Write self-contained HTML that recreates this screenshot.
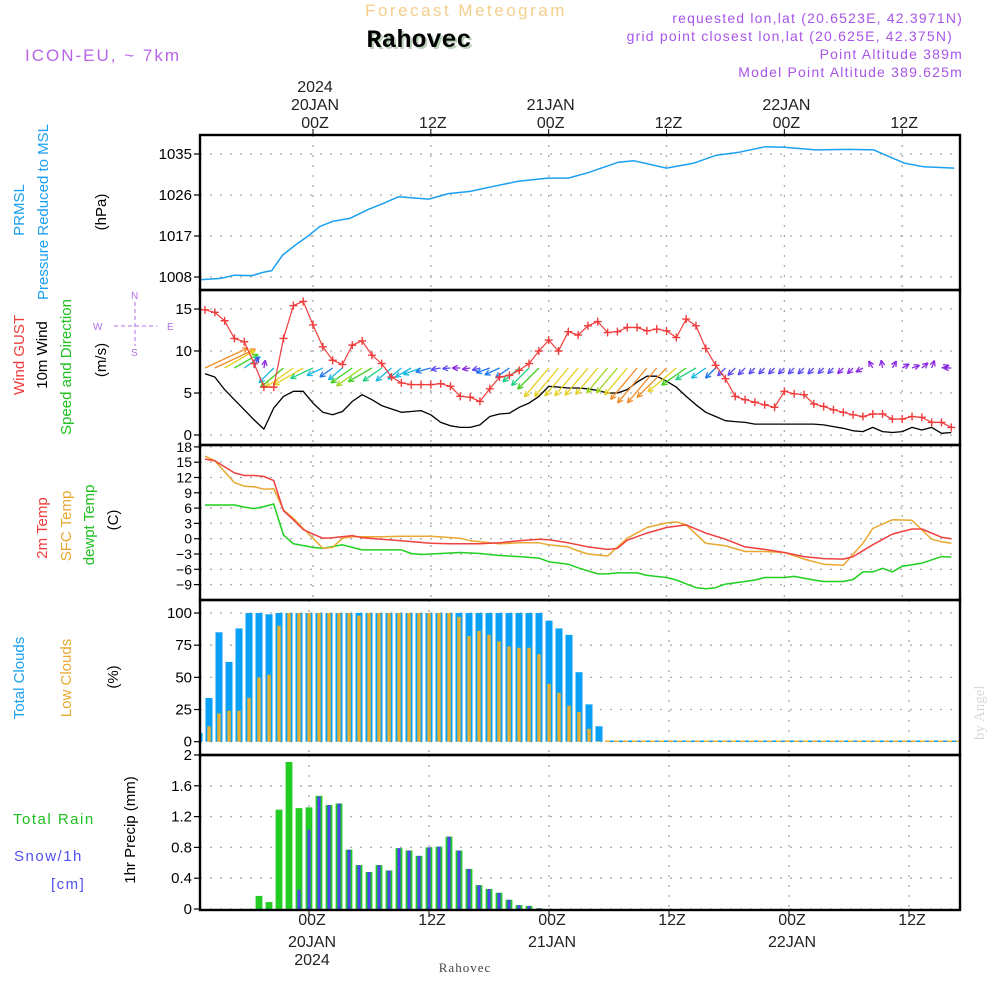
<!DOCTYPE html>
<html><head><meta charset="utf-8"><style>
html,body{margin:0;padding:0;background:#fff;}
svg{display:block;font-family:"Liberation Sans",sans-serif;}
</style></head><body>
<svg id="chart" width="1000" height="1000" viewBox="0 0 1000 1000" xmlns="http://www.w3.org/2000/svg">
<g id="titles">
<text x="466" y="16" text-anchor="middle" font-size="17" fill="#f3cf8c" letter-spacing="2.5">Forecast Meteogram</text>
<text x="421" y="49" text-anchor="middle" font-size="25" font-weight="bold" font-family="Liberation Mono, monospace" fill="#b8d0b8">Rahovec</text>
<text x="419" y="47" text-anchor="middle" font-size="25" font-weight="bold" font-family="Liberation Mono, monospace" fill="#000">Rahovec</text>
<text x="25" y="61" font-size="17" fill="#b865e8" letter-spacing="2">ICON-EU, ~ 7km</text>
<g font-size="14" fill="#a855e8" text-anchor="end" letter-spacing="1.2">
<text x="963" y="23">requested lon,lat (20.6523E, 42.3971N)</text>
<text x="953" y="41">grid point closest lon,lat (20.625E, 42.375N)</text>
<text x="963" y="59">Point Altitude 389m</text>
<text x="963" y="77">Model Point Altitude 389.625m</text>
</g>
<text transform="translate(984,740) rotate(-90)" font-size="15" font-family="Liberation Serif, serif" fill="#d8d8d8">by Angel</text>
<text x="465" y="972" text-anchor="middle" font-size="13" font-family="Liberation Serif, serif" fill="#444" letter-spacing="1">Rahovec</text>
</g>
<g id="axtitles" font-size="15">
<text transform="translate(24,210) rotate(-90)" text-anchor="middle" fill="#1aa0f0">PRMSL</text>
<text transform="translate(48,212) rotate(-90)" text-anchor="middle" fill="#1aa0f0">Pressure Reduced to MSL</text>
<text transform="translate(106,212) rotate(-90)" text-anchor="middle" fill="#000">(hPa)</text>
<text transform="translate(24,355) rotate(-90)" text-anchor="middle" fill="#f03c3c">Wind GUST</text>
<text transform="translate(47,355) rotate(-90)" text-anchor="middle" fill="#000">10m Wind</text>
<text transform="translate(71,367) rotate(-90)" text-anchor="middle" fill="#20c020">Speed and Direction</text>
<text transform="translate(106,360) rotate(-90)" text-anchor="middle" fill="#000">(m/s)</text>
<text transform="translate(47,528) rotate(-90)" text-anchor="middle" fill="#f03c3c">2m Temp</text>
<text transform="translate(71,526) rotate(-90)" text-anchor="middle" fill="#e8a830">SFC Temp</text>
<text transform="translate(94,525) rotate(-90)" text-anchor="middle" fill="#20c020">dewpt Temp</text>
<text transform="translate(118,520) rotate(-90)" text-anchor="middle" fill="#000">(C)</text>
<text transform="translate(24,678) rotate(-90)" text-anchor="middle" fill="#1aa0f0">Total Clouds</text>
<text transform="translate(71,678) rotate(-90)" text-anchor="middle" fill="#e8a830">Low Clouds</text>
<text transform="translate(118,677) rotate(-90)" text-anchor="middle" fill="#000">(%)</text>
<text transform="translate(135,830) rotate(-90)" text-anchor="middle" fill="#000">1hr Precip (mm)</text>
<text x="13" y="824" fill="#20c020" letter-spacing="1.5">Total    Rain</text>
<text x="14" y="861" fill="#5050f0" letter-spacing="1.5">Snow/1h</text>
<text x="51" y="889" fill="#5050f0" letter-spacing="1.5">[cm]</text>
</g>
<g id="compass" fill="#b070e8" stroke="#b070e8" font-size="10">
<text x="131" y="299" stroke="none">N</text><text x="131" y="356" stroke="none">S</text>
<text x="93" y="330" stroke="none">W</text><text x="167" y="330" stroke="none">E</text>
<line x1="135" y1="302" x2="135" y2="346" stroke-dasharray="4,3"/>
<line x1="114" y1="326" x2="157" y2="326" stroke-dasharray="4,3"/>
</g>
<g id="grid"></g>
<g id="marks"></g>
<g id="frame"></g>
</svg>
<script>
// ---------- data ----------
const pressHours=[-11.5,-9.4,-8,-6.2,-5.1,-4.2,-3.1,-1.8,-0.5,0.7,2,3.8,5.6,7.1,8.7,11.8,13.8,16,18.4,20.9,23.9,26,28,31.1,32.7,36,38.8,41,43.4,46.1,48,51.2,54.6,57.1,60.2,62.2,65.3];
const pressure=[1007.4,1007.7,1008.4,1008.3,1009,1009.4,1012.8,1015,1017,1019.1,1020.2,1020.9,1022.8,1024.1,1025.6,1025.1,1026.3,1026.8,1027.9,1029,1029.7,1029.7,1030.9,1033.2,1033.5,1031.9,1033,1034.7,1035.4,1036.6,1036.5,1035.9,1036,1035.9,1033,1032.2,1031.9];
const windStartHour=-11;
const gust=[14.9,14.6,13.6,11.5,11.1,8.5,5.7,5.7,11.5,15.4,15.9,13.1,10.5,8.9,8.4,10.7,11.2,9.5,8.5,6.9,6.2,6.0,6.0,6.0,6.1,5.8,4.6,4.5,4.0,5.5,6.9,7.1,7.7,8.5,10.0,11.3,10.0,12.3,11.9,13.0,13.5,12.2,12.3,12.8,12.8,12.4,12.6,12.4,11.6,13.8,13.0,10.3,8.3,6.7,4.6,4.2,3.9,3.6,3.3,5.2,4.9,4.8,3.7,3.4,3.0,2.7,2.4,2.2,2.5,2.5,1.9,1.9,2.2,2.1,1.5,1.5,0.9];
const windSpeed=[7.3,6.9,5.4,4.2,3.0,1.8,0.7,3.2,4.6,5.2,5.2,3.8,2.7,2.4,2.8,4.0,4.8,4.2,3.5,3.1,2.7,2.8,2.9,2.4,1.5,1.1,0.9,0.9,1.2,2.2,2.5,2.6,3.3,3.8,4.6,5.8,5.7,5.6,5.6,5.5,5.3,5.0,5.0,5.4,6.3,7.0,7.0,6.4,5.7,4.6,3.6,2.7,2.2,1.7,1.6,1.5,1.3,1.3,1.3,1.3,1.3,1.3,1.3,1.2,1.0,0.8,0.5,0.4,0.9,0.4,0.3,0.4,0.9,0.6,0.9,0.2,0.3];
const windDir=[245,245,240,240,235,200,190,45,50,55,60,65,65,55,50,55,55,60,55,50,50,60,70,75,80,85,90,80,75,70,65,55,50,45,45,40,40,40,40,40,40,40,40,40,40,40,40,45,50,55,60,55,45,45,45,45,45,45,45,45,45,45,45,45,45,45,45,60,150,170,210,240,250,230,200,250,90];
const t2mHours=[-11,-10,-8,-7,-6,-5,-4,-3,-2,-1,0,1,2,4,5,7,9,12,14,17,19,21,23,24,26,28,30,31,32,34,36,38,40,42,44,46,48,50,52,54,55,57,59,61,62,64,65];
const t2m=[15.6,15.3,12.9,12.4,12.4,12.2,11.4,5.5,3.7,1.8,0.9,0.1,0.2,0.6,0.2,-0.1,-0.4,-0.9,-1.0,-1.0,-0.8,-0.4,-0.1,-0.2,-0.8,-1.6,-2.1,-1.9,-0.3,1.1,2.2,2.7,1.1,-0.1,-1.6,-2.1,-2.7,-3.5,-3.9,-4.0,-3.5,-1.2,0.9,1.9,1.9,0.3,0];
const sfcHours=[-11,-10,-8,-7,-6,-5,-4,-3,-2,-1,0,1,2,3,4,7,9,12,15,16,17,19,21,23,24,26,27,28,30,32,34,36,37,38,40,42,44,46,48,50,52,54,56,57,59,61,63,64,65];
const sfcTemp=[16.2,15.3,11.0,10.3,10.2,9.7,9.8,5.6,4.0,2.0,0.1,-1.9,-1.7,0.1,0.4,0.4,0.5,0.5,0.1,-0.4,-0.6,-1.0,-0.8,-0.8,-1.2,-1.6,-2.4,-3.0,-3.4,0.1,2.2,3.1,3.3,2.7,-0.9,-1.4,-2.5,-2.5,-2.7,-4.0,-5.0,-5.2,-0.9,2.0,3.7,3.6,-0.1,-0.6,-0.9];
const dewHours=[-11,-8,-7,-6,-5,-4,-3,-2,0,1,3,5,7,9,10,11,13,15,17,19,21,23,24,26,27,29,30,31,33,34,36,37,39,40,41,42,44,45,46,48,49,51,52,54,55,56,57,58,59,60,62,64,65];
const dewpoint=[6.6,6.6,6.2,5.9,6.3,6.8,0.7,-1.0,-1.7,-1.9,-1.2,-2.2,-2.2,-2.2,-2.9,-3.1,-2.9,-2.7,-2.9,-3.3,-3.5,-3.8,-4.5,-5.0,-5.7,-6.9,-6.9,-6.7,-6.7,-7.2,-7.6,-8.1,-9.6,-9.8,-9.6,-8.9,-8.4,-8.1,-7.6,-7.6,-7.4,-8.1,-8.4,-8.4,-8.0,-6.5,-6.5,-5.8,-6.5,-5.4,-4.8,-3.5,-3.6];
const cloudStartHour=-11;
const totalClouds=[7,34,85,62,88,100,100,99,100,100,100,100,100,100,100,100,100,100,100,100,100,100,100,100,100,100,100,100,100,100,100,100,100,100,100,94,88,83,54,29,12];
const lowClouds=[4,12,22,24,24,34,50,52,90,100,100,100,100,100,100,100,98,100,100,100,100,100,100,100,100,100,97,82,86,83,78,74,73,73,68,45,38,28,23,10,0.5];
const precipStartHour=-5;
const rain=[0.17,0.09,1.29,1.91,1.31,1.32,1.47,1.35,1.37,0.77,0.57,0.48,0.57,0.50,0.79,0.76,0.69,0.80,0.81,0.94,0.76,0.52,0.31,0.26,0.21,0.12,0.05,0.04,0.01];
const snow=[0,0,0,0,0.25,1.03,1.46,1.35,1.37,0.77,0.57,0.48,0.57,0.50,0.79,0.76,0.69,0.80,0.81,0.94,0.76,0.52,0.31,0.26,0.21,0.12,0.05,0.04,0.01];
const pressTicks=[1008,1017,1026,1035];
const windTicks=[0,5,10,15];
const tempTicks=[-9,-6,-3,0,3,6,9,12,15,18];
const cloudTicks=[0,25,50,75,100];
const precipTicks=[0,0.4,0.8,1.2,1.6,2];
const timeTickHours=[0,12,24,36,48,60];
const timeTickLabels=["00Z","12Z","00Z","12Z","00Z","12Z"];
const dateLabels={0:"20JAN",24:"21JAN",48:"22JAN"};

// ---------- axes ----------
const L=200,R=960;
const xU=h=>313+h*9.82;
const xB=h=>309+h*10;
const yP=v=>277-(v-1008)*41/9;
const yW=v=>435-v*8.4;
const yT=v=>538.7-v*5.1;
const yC=v=>741.7-v*1.287;
const yR=v=>909-v*77;
const NS="http://www.w3.org/2000/svg";
function mk(parent,tag,attrs){const e=document.createElementNS(NS,tag);for(const k in attrs)e.setAttribute(k,attrs[k]);parent.appendChild(e);return e;}
const grid=document.getElementById('grid'),marks=document.getElementById('marks'),frame=document.getElementById('frame');
const clip=mk(document.getElementById('chart'),'clipPath',{id:'plotclip'});
mk(clip,'rect',{x:L,y:135,width:R-L,height:775});
marks.setAttribute('clip-path','url(#plotclip)');

const panels=[{t:135,b:290,ticks:pressTicks,f:yP,fmt:v=>v,x:xU,name:'pressure'},
{t:290,b:445,ticks:windTicks,f:yW,fmt:v=>v,x:xU,name:'wind'},
{t:445,b:600,ticks:tempTicks,f:yT,fmt:v=>v<0?'\u2212'+(-v):v,x:xU,name:'temp'},
{t:600,b:755,ticks:cloudTicks,f:yC,fmt:v=>v,x:xB,name:'cloud'},
{t:755,b:910,ticks:precipTicks,f:yR,fmt:v=>v,x:xB,name:'precip'}];
panels.forEach(p=>{
  p.ticks.forEach(v=>{
    const y=p.f(v);
    const gl=mk(grid,'line',{x1:L,x2:R,y1:y,y2:y,stroke:'#aaa','stroke-dasharray':'2,8','stroke-width':1.3});
    
    
    mk(grid,'line',{x1:L-6,x2:L,y1:y,y2:y,stroke:'#000','stroke-width':1.2});
    const t=mk(grid,'text',{x:L-8,y:y+5,'text-anchor':'end','font-size':p.name==='temp'?14:15,fill:'#000'});
    t.textContent=p.fmt(v);
    
    
  });
  timeTickHours.forEach(h=>{
    const x=p.x(h);
    const vl=mk(grid,'line',{x1:x,x2:x,y1:p.t,y2:p.b,stroke:'#aaa','stroke-dasharray':'2,8','stroke-width':1.3});
    
    
  });
  const r=mk(frame,'rect',{x:L,y:p.t,width:R-L,height:p.b-p.t,fill:'none',stroke:'#000','stroke-width':2.4});
  
  
});
timeTickHours.forEach((h,i)=>{
  const x=xU(h);
  mk(frame,'line',{x1:x,x2:x,y1:129,y2:135,stroke:'#000'});
  const t=mk(frame,'text',{x:x+2,y:128,'text-anchor':'middle','font-size':16,fill:'#222'});
  t.textContent=timeTickLabels[i];
  
  
  if(dateLabels[h]){const d=mk(frame,'text',{x:x+2,y:110,'text-anchor':'middle','font-size':16,fill:'#222'});d.textContent=dateLabels[h];
    
    }
  const xb=xB(h);
  mk(frame,'line',{x1:xb,x2:xb,y1:910,y2:915,stroke:'#000'});
  const b=mk(frame,'text',{x:xb+3,y:925,'text-anchor':'middle','font-size':16,fill:'#222'});
  b.textContent=timeTickLabels[i];
  
  
  if(dateLabels[h]){const d=mk(frame,'text',{x:xb+3,y:947,'text-anchor':'middle','font-size':16,fill:'#222'});d.textContent=dateLabels[h];
    
    }
});
const y1=mk(frame,'text',{x:315,y:92,'text-anchor':'middle','font-size':16,fill:'#222'});y1.textContent='2024';


const y2=mk(frame,'text',{x:312,y:965,'text-anchor':'middle','font-size':16,fill:'#222'});y2.textContent='2024';



function polyline(hours,vals,xf,yf,color,name,w){
  const pts=hours.map((h,i)=>xf(h).toFixed(1)+','+yf(vals[i]).toFixed(1)).join(' ');
  const pl=mk(marks,'polyline',{points:pts,fill:'none',stroke:color,'stroke-width':w||1.4,'stroke-linejoin':'round'});
  
  
  return pl;
}
polyline(pressHours,pressure,xU,yP,'#1aa0f0','pressure-line',1.5);
const windHours=windSpeed.map((_,i)=>windStartHour+i);
polyline(windHours,windSpeed,xU,yW,'#000','wind-speed-line',1.3);
function arrowColor(s){
  if(s<1)return '#8a2be2'; if(s<2)return '#5a4cf0'; if(s<2.7)return '#1e78f0';
  if(s<3.3)return '#18b8e0'; if(s<4)return '#20d080'; if(s<4.8)return '#40d020';
  if(s<5.2)return '#a0d820'; if(s<6)return '#e6d020'; return '#f08c28';
}
windHours.forEach((h,i)=>{
  const s=windSpeed[i],len=Math.max(8,s*6.5),to=(windDir[i]+180)*Math.PI/180;
  const x0=xU(h),yb=368,x1=x0+Math.sin(to)*len,yy=yb-Math.cos(to)*len;
  const c=arrowColor(s);
  const g=mk(marks,'g',{stroke:c,'stroke-width':1.3,fill:'none'});
  
  
  mk(g,'line',{x1:x0,y1:yb,x2:x1,y2:yy});
  const a=Math.atan2(yy-yb,x1-x0);
  [0.45,-0.45].forEach(d=>mk(g,'line',{x1:x1,y1:yy,x2:x1-6*Math.cos(a+d),y2:yy-6*Math.sin(a+d)}));
});
polyline(windHours,gust,xU,yW,'#f03c3c','gust-line',1.2);
windHours.forEach((h,i)=>{
  const x=xU(h),y=yW(gust[i]);
  const m=mk(marks,'path',{d:`M${x-4},${y}H${x+4}M${x},${y-4}V${y+4}`,stroke:'#f03c3c','stroke-width':1.4});
  
  
});
polyline(dewHours,dewpoint,xU,yT,'#20d020','dewpoint-line',1.5);
polyline(sfcHours,sfcTemp,xU,yT,'#e8a830','sfc-temp-line',1.5);
polyline(t2mHours,t2m,xU,yT,'#f04040','t2m-line',1.5);
totalClouds.forEach((v,i)=>{
  const h=cloudStartHour+i,x=xB(h);
  const b=mk(marks,'rect',{x:x-3.5,y:yC(v),width:7,height:yC(0)-yC(v),fill:'#0aa0f5'});
  
  
  const lv=lowClouds[i];
  const o=mk(marks,'rect',{x:x-1.7,y:yC(lv),width:3.4,height:yC(0)-yC(lv),fill:'#e8b030'});
  
  
});
const zx=xB(cloudStartHour+totalClouds.length)-4;
const zb=mk(marks,'line',{x1:zx,x2:R,y1:yC(0)-0.5,y2:yC(0)-0.5,stroke:'#0aa0f5','stroke-width':1.5});


const zl=mk(marks,'line',{x1:zx,x2:R,y1:yC(0)-0.5,y2:yC(0)-0.5,stroke:'#e8b030','stroke-dasharray':'5,4','stroke-width':1.5});


rain.forEach((v,i)=>{
  const h=precipStartHour+i,x=xB(h);
  const b=mk(marks,'rect',{x:x-3.4,y:yR(v),width:6.8,height:yR(0)-yR(v),fill:'#22cc22'});
  
  
  const s=snow[i];
  if(s>0){const sb=mk(marks,'rect',{x:x-1.6,y:yR(s),width:3.2,height:yR(0)-yR(s),fill:'#4848ee'});
    
    }
});
</script>
</body></html>
